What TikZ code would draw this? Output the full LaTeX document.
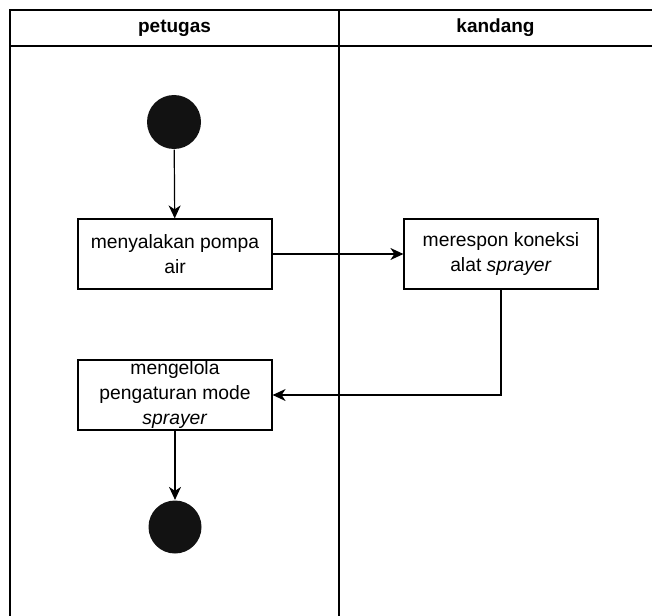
\documentclass[tikz,border=0pt]{standalone}
\usepackage{fontspec}
\setmainfont{Liberation Sans}
\usetikzlibrary{arrows.meta}

\begin{document}
\begin{tikzpicture}[x=1pt,y=-1pt,line width=1.2pt,
    act/.style={draw,align=center,minimum width=194pt,minimum height=70pt,
      inner sep=1pt,font=\fontsize{19.3}{25}\selectfont},
    dot/.style={circle,fill=black!93,minimum size=54pt,inner sep=0pt},
    lane/.style={font=\fontsize{19}{23}\selectfont\bfseries},
    flow/.style={-{Stealth[length=13pt,width=12pt,inset=4pt]}}]
  \useasboundingbox (0,0) rectangle (652,615);
  \clip (0,0) rectangle (652,615);
  % swimlanes
  \draw (10,10) rectangle (680,640);
  \draw (10,46) -- (680,46);
  \draw (339,10) -- (339,640);
  \node[lane] (petugas) at (174.5,28) {petugas};
  \node[lane] (kandang) at (495.5,28) {kandang};
  % activities
  \node[dot] (start) at (174,122) {};
  \node[act] (nyala) at (175,254) {menyalakan pompa\\air};
  \node[act] (respon) at (501,254) {merespon koneksi\\alat \textit{sprayer}};
  \node[act] (kelola) at (175,395) {mengelola\\pengaturan mode\\\textit{sprayer}};
  \node[dot,minimum size=53pt] (stop) at (175,527) {};
  \path[flow]
    (start) edge (nyala)
    (nyala) edge (respon)
    (kelola) edge (stop);
  \draw[flow] (respon.south) |- (kelola.east);
\end{tikzpicture}
\end{document}
